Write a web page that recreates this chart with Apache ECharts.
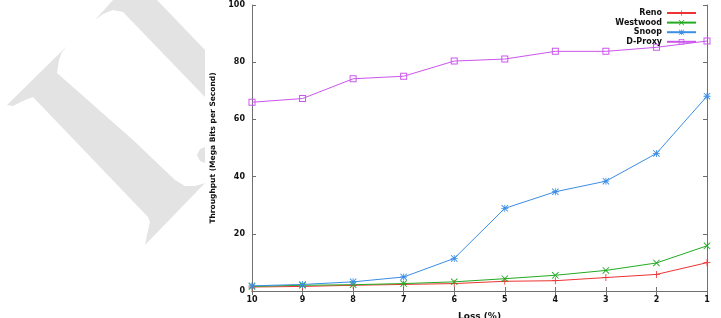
<!DOCTYPE html>
<html>
<head>
<meta charset="utf-8">
<script src="https://cdn.jsdelivr.net/npm/echarts@6/dist/echarts.min.js"></script>
<style>
  html, body { margin: 0; padding: 0; background: #fff; }
  #chart { width: 721px; height: 318px; }
</style>
</head>
<body>
<div id="chart"></div>
<script>
// loss percentage, plotted from 10 down to 1
const lossLabels = ['10', '9', '8', '7', '6', '5', '4', '3', '2', '1'];

const reno     = [1.4, 1.6, 2.0, 2.3, 2.6, 3.4, 3.6, 4.7, 5.8, 9.9];
const westwood = [1.6, 2.0, 2.2, 2.6, 3.2, 4.3, 5.5, 7.2, 9.8, 15.8];
const snoop    = [1.8, 2.3, 3.2, 4.9, 11.4, 28.9, 34.7, 38.4, 48.1, 68.1];
const dproxy   = [66.0, 67.3, 74.2, 75.1, 80.4, 81.1, 83.8, 83.8, 85.2, 87.4];

const yTicks = [0, 20, 40, 60, 80, 100];

// gnuplot-like point types
const PLUS = 'path://M0,4.4H10V5.6H0Z M4.4,0H5.6V10H4.4Z';
const CROSS = 'path://M0,0.9L0.9,0L10,9.1L9.1,10Z M9.1,0L10,0.9L0.9,10L0,9.1Z';
const STAR = 'path://M0,4.4H10V5.6H0Z M4.4,0H5.6V10H4.4Z M0,0.9L0.9,0L10,9.1L9.1,10Z M9.1,0L10,0.9L0.9,10L0,9.1Z';
const BOX = 'path://M0,0H10V10H0Z M1.4,1.4V8.6H8.6V1.4Z';

const FONT = '"DejaVu Sans", sans-serif';
const AXIS_C = '#707070';

function mk(name, data, color, symbol) {
  return {
    name, type: 'line', data,
    symbol, symbolSize: 7,
    showAllSymbol: true,
    lineStyle: { color, width: 1 },
    itemStyle: { color },
    z: 3
  };
}

// faint watermark shapes on the left side of the page (decoration only)
const markA = [[7,105],[67,46],[62,52],[59,60],[57,73],[133,140],[175,180],[185,186],[195,186],[205,183],
  [145,245],[147,235],[150,222],[148,217],[33,97],[25,100],[13,106]];
const markB = [[95,20],[113,0],[157,0],[205,50],[205,97],[123,12],[113,10],[103,14]];
const markC = [[205,147],[200,149],[197,155],[200,161],[205,163]];

const chart = echarts.init(document.getElementById('chart'), null, { renderer: 'canvas' });
chart.setOption({
  animation: false,
  backgroundColor: '#fff',
  textStyle: { fontFamily: FONT },
  graphic: [markA, markB, markC].map(pts => ({
    type: 'polygon', z: -10, silent: true, shape: { points: pts }, style: { fill: '#e3e3e3' }
  })),
  legend: {
    orient: 'vertical',
    right: 24,
    top: 9,
    align: 'right',
    itemWidth: 29,
    itemHeight: 7,
    itemGap: 1.6,
    padding: 0,
    textStyle: { fontSize: 8, fontWeight: 'bold', color: '#111', lineHeight: 8, fontFamily: FONT },
    data: ['Reno', 'Westwood', 'Snoop', 'D-Proxy']
  },
  grid: { left: 252, right: 14, top: 5, bottom: 27, outerBoundsMode: 'none', containLabel: false },
  xAxis: [{
    type: 'category',
    data: lossLabels,
    boundaryGap: false,
    name: 'Loss (%)',
    nameLocation: 'middle',
    nameGap: 21,
    nameTextStyle: { fontSize: 9, fontWeight: 'bold', color: '#111' },
    axisLine: { lineStyle: { color: AXIS_C } },
    axisTick: { inside: true, length: 4, lineStyle: { color: AXIS_C } },
    axisLabel: { fontSize: 8, fontWeight: 'bold', color: '#111', margin: 5 },
    splitLine: { show: false }
  }, {
    type: 'category',
    data: lossLabels,
    boundaryGap: false,
    position: 'top',
    axisLine: { lineStyle: { color: AXIS_C } },
    axisTick: { inside: true, length: 4, lineStyle: { color: AXIS_C } },
    axisLabel: { show: false },
    splitLine: { show: false }
  }],
  yAxis: [{
    type: 'value',
    min: 0, max: 100, interval: 20,
    name: 'Throughput (Mega Bits per Second)',
    nameLocation: 'middle',
    nameGap: 34,
    nameTextStyle: { fontSize: 7.5, fontWeight: 'bold', color: '#111' },
    axisLine: { show: true, lineStyle: { color: AXIS_C } },
    axisTick: { show: true, inside: true, length: 4, lineStyle: { color: AXIS_C } },
    axisLabel: {
      fontSize: 8, fontWeight: 'bold', color: '#111', margin: 7,
      formatter: v => (yTicks.indexOf(v) >= 0 ? String(v) : '')
    },
    splitLine: { show: false }
  }, {
    type: 'value',
    min: 0, max: 100, interval: 20,
    position: 'right',
    axisLine: { show: true, lineStyle: { color: AXIS_C } },
    axisTick: { show: true, inside: true, length: 4, lineStyle: { color: AXIS_C } },
    axisLabel: { show: false },
    splitLine: { show: false }
  }],
  series: [
    mk('Reno', reno, '#ee3333', PLUS),
    mk('Westwood', westwood, '#22aa22', CROSS),
    mk('Snoop', snoop, '#3a8ee6', STAR),
    mk('D-Proxy', dproxy, '#cc55ee', BOX)
  ]
});
</script>
</body>
</html>
